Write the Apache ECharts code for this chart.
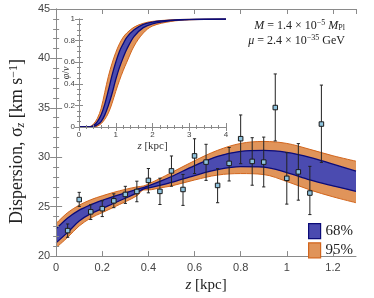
<!DOCTYPE html>
<html><head><meta charset="utf-8">
<script src="https://cdn.jsdelivr.net/npm/echarts@6/dist/echarts.min.js"></script>
<style>html,body{margin:0;padding:0;background:#fff}#c{width:374px;height:298px}</style>
</head><body><div id="c"></div>
<script>
// ---- main panel data ----
const zPts  = [0.05,0.1,0.15,0.2,0.25,0.3,0.35,0.4,0.45,0.5,0.55,0.6,0.65,0.7,0.75,0.8,0.85,0.9,0.95,1.0,1.05,1.1,1.15];
const sigma = [22.58,25.72,24.48,24.8,25.59,26.24,26.54,27.66,26.55,28.62,26.74,30.14,29.51,27.15,29.38,31.88,29.58,29.51,35.03,27.87,28.52,26.38,33.36];
const errHi = [23.25,26.45,25.2,25.6,26.3,27.06,27.58,28.86,27.88,30.13,28.26,31.87,31.31,28.85,30.99,34.28,31.98,32.04,38.43,30.46,31.38,29.08,37.3];
const errLo = [21.9,25.03,23.7,24.0,24.9,25.33,25.5,26.4,25.22,27.07,25.13,28.35,27.66,25.4,27.6,29.35,27.17,27.0,31.65,25.26,25.66,24.2,29.48];

const zBand = [0,0.05,0.1,0.15,0.2,0.25,0.3,0.35,0.38,0.4,0.45,0.5,0.6,0.7,0.8,0.9,1.0,1.1,1.2,1.3];
const o95Hi = [23.3,24.4,25.15,25.7,26.1,26.45,26.75,27.0,27.1,27.3,27.85,28.45,29.65,30.7,31.4,31.6,31.4,30.8,30.15,29.6];
const b68Hi = [22.75,23.85,24.65,25.2,25.65,26.05,26.4,26.75,26.95,27.1,27.55,28.05,29.15,30.1,30.6,30.7,30.5,30.0,29.3,28.6];
const b68Lo = [21.35,22.4,23.55,24.3,24.8,25.35,25.85,26.4,26.8,26.9,27.15,27.45,28.15,28.75,29.05,29.0,28.45,27.7,27.1,26.55];
const o95Lo = [20.85,21.9,23.05,23.85,24.4,24.95,25.5,26.1,26.7,26.7,26.9,27.1,27.7,28.2,28.35,28.25,27.55,26.7,26.0,25.4];

// ---- inset data ----
const zIn   = [0,0.3,0.4,0.5,0.6,0.7,0.8,0.9,1.0,1.1,1.2,1.3,1.5,1.75,2.0,2.5,3.0,4.0];
const inOL  = [0,0.005,0.03,0.08,0.17,0.32,0.47,0.59,0.69,0.77,0.83,0.87,0.925,0.96,0.978,0.992,0.998,1];
const inBL  = [0,0,0.015,0.05,0.11,0.21,0.34,0.48,0.6,0.7,0.77,0.83,0.9,0.95,0.972,0.989,0.997,1];
const inBR  = [0,0,0.005,0.022,0.05,0.11,0.2,0.31,0.44,0.55,0.64,0.72,0.84,0.92,0.955,0.984,0.995,1];
const inOR  = [0,0,0,0.008,0.03,0.07,0.13,0.22,0.33,0.43,0.52,0.6,0.75,0.87,0.935,0.977,0.992,1];

const mainXTicks = {min:0, max:1.3, interval:0.2};
const mainYTicks = {min:20, max:45, interval:5};

const ORANGE = '#e0945a', ORANGE_EDGE = '#d2651c';
const BLUE = '#4b4bb0', BLUE_EDGE = '#0b0b78';
const FRAME = '#8a8a8a', LABEL = '#444';
const SERIF = '"Liberation Serif","DejaVu Serif",serif';
const SANS = '"Liberation Sans","DejaVu Sans",sans-serif';
const SMOOTH = 0.35;

const pair = (xs, ys) => xs.map((x,i)=>[x, ys[i]]);

// filled curve: area from the curve down to the axis minimum (layered to build bands)
function fillCurve(name, xs, ys, fill, xi, yi, z) {
  return {type:'line', name:name, xAxisIndex:xi, yAxisIndex:yi, data:pair(xs, ys),
    showSymbol:false, smooth:SMOOTH, lineStyle:{width:0, color:fill}, itemStyle:{color:fill},
    areaStyle:{color:fill, opacity:1, origin:'start'}, z:z, silent:true};
}
function edgeCurve(name, xs, ys, color, w, xi, yi, z) {
  return {type:'line', name:name, xAxisIndex:xi, yAxisIndex:yi, data:pair(xs, ys),
    showSymbol:false, smooth:SMOOTH, lineStyle:{width:w, color:color}, itemStyle:{color:color}, z:z, silent:true};
}
function band(prefix, xs, oLo, oHi, bLo, bHi, xi, yi, z0, names) {
  return [
    fillCurve(names ? names[1] : prefix+'o', xs, oHi, ORANGE, xi, yi, z0),
    fillCurve(names ? names[0] : prefix+'b', xs, bHi, BLUE, xi, yi, z0+1),
    fillCurve(prefix+'bl', xs, bLo, ORANGE, xi, yi, z0+2),
    fillCurve(prefix+'ol', xs, oLo, '#ffffff', xi, yi, z0+3),
    edgeCurve(prefix+'e1', xs, oHi, ORANGE_EDGE, 1, xi, yi, z0+4),
    edgeCurve(prefix+'e2', xs, oLo, ORANGE_EDGE, 1, xi, yi, z0+4),
    edgeCurve(prefix+'e3', xs, bHi, BLUE_EDGE, 1.3, xi, yi, z0+5),
    edgeCurve(prefix+'e4', xs, bLo, BLUE_EDGE, 1.3, xi, yi, z0+5)
  ];
}

function axisCommon(extra) {
  return Object.assign({
    type:'value', splitLine:{show:false}, z:40,
    axisLine:{show:true, lineStyle:{color:FRAME, width:1}},
    axisTick:{show:true, inside:true, length:5, lineStyle:{color:FRAME}},
  }, extra);
}

const chart = echarts.init(document.getElementById('c'), null, {renderer:'canvas'});
const option = {
  animation:false,
  backgroundColor:'#fff',
  grid:[
    {left:43, top:9, width:313, height:253},
    {left:79, top:19, width:147, height:108, show:true, backgroundColor:'#fff', borderWidth:0}
  ],
  legend:{
    show:true, left:308, top:223, orient:'vertical', itemWidth:12, itemHeight:15, itemGap:3, padding:0,
    icon:'rect', z:50, selectedMode:false,
    textStyle:{fontFamily:SERIF, fontSize:15, color:'#222'},
    data:[
      {name:'68%', icon:'rect', itemStyle:{color:BLUE, borderColor:BLUE_EDGE, borderWidth:1.2, opacity:1}},
      {name:'95%', icon:'rect', itemStyle:{color:ORANGE, borderColor:ORANGE_EDGE, borderWidth:1.2, opacity:1}}
    ]
  },
  xAxis:[
    axisCommon(Object.assign({gridIndex:0, position:'bottom',
      axisLabel:{color:LABEL, fontFamily:SANS, fontSize:11, margin:6, showMaxLabel:false},
      name:'{i|z} [kpc]', nameLocation:'middle', nameGap:17,
      nameTextStyle:{fontFamily:SERIF, fontSize:15, color:'#222', rich:{i:{fontFamily:SERIF, fontStyle:'italic', fontSize:15, color:'#222'}}}
    }, mainXTicks)),
    axisCommon(Object.assign({gridIndex:0, position:'top', axisLabel:{show:false}}, mainXTicks)),
    axisCommon({gridIndex:1, position:'bottom', min:0, max:4, interval:1,
      axisTick:{show:true, inside:true, length:4, lineStyle:{color:FRAME}},
      minorTick:{show:true, splitNumber:5, length:2, lineStyle:{color:FRAME}},
      axisLabel:{color:LABEL, fontFamily:SANS, fontSize:8, margin:4},
      name:'{i|z} [kpc]', nameLocation:'middle', nameGap:14,
      nameTextStyle:{fontFamily:SERIF, fontSize:11, color:'#333', rich:{i:{fontFamily:SERIF, fontStyle:'italic', fontSize:11, color:'#333'}}}
    }),
    axisCommon({gridIndex:1, position:'top', min:0, max:4, interval:1,
      axisTick:{show:true, inside:true, length:4, lineStyle:{color:FRAME}},
      minorTick:{show:true, splitNumber:5, length:2, lineStyle:{color:FRAME}},
      axisLabel:{show:false}})
  ],
  yAxis:[
    axisCommon(Object.assign({gridIndex:0, position:'left',
      axisTick:{show:true, inside:true, length:6, lineStyle:{color:FRAME}},
      minorTick:{show:true, splitNumber:5, length:3, lineStyle:{color:FRAME}},
      axisLabel:{color:LABEL, fontFamily:SANS, fontSize:11, margin:6},
      name:'Dispersion, \u03c3{sub|z} [km s{sup|\u22121}]\u2002\u2002', nameLocation:'middle', nameGap:18,
      nameTextStyle:{fontFamily:SERIF, fontSize:18, color:'#222',
        rich:{sub:{fontFamily:SERIF, fontStyle:'italic', fontSize:12, color:'#222', verticalAlign:'bottom', padding:[7,0,0,0]},
              sup:{fontFamily:SERIF, fontSize:12, color:'#222', verticalAlign:'top', padding:[0,0,7,0]}}}
    }, mainYTicks)),
    axisCommon(Object.assign({gridIndex:0, position:'right',
      axisTick:{show:true, inside:true, length:6, lineStyle:{color:FRAME}},
      minorTick:{show:true, splitNumber:5, length:3, lineStyle:{color:FRAME}},
      axisLabel:{show:false}}, mainYTicks)),
    axisCommon({gridIndex:1, position:'left', min:0, max:1, interval:0.2,
      axisTick:{show:true, inside:true, length:4, lineStyle:{color:FRAME}},
      minorTick:{show:true, splitNumber:4, length:2, lineStyle:{color:FRAME}},
      axisLabel:{color:LABEL, fontFamily:SANS, fontSize:8, margin:4},
      name:'{i|\u03c6}/{i|v}', nameLocation:'middle', nameGap:8, nameMoveOverlap:false,
      nameTextStyle:{fontFamily:SERIF, fontSize:10, color:'#333', rich:{i:{fontFamily:SERIF, fontStyle:'italic', fontSize:10, color:'#333'}}}
    }),
    axisCommon({gridIndex:1, position:'right', min:0, max:1, interval:0.2,
      axisTick:{show:true, inside:true, length:4, lineStyle:{color:FRAME}},
      minorTick:{show:true, splitNumber:4, length:2, lineStyle:{color:FRAME}},
      axisLabel:{show:false}})
  ],
  graphic:[
    {type:'text', right:29, top:19, z:50, style:{
      text:'{i|M} = 1.4 \u00d7 10{sup|\u22125} {i|M}{sub|Pl}',
      fontFamily:SERIF, fontSize:12, fill:'#222',
      rich:{i:{fontFamily:SERIF, fontStyle:'italic', fontSize:12, fill:'#222'},
            sup:{fontFamily:SERIF, fontSize:8, fill:'#222', verticalAlign:'top', padding:[0,0,5,0]},
            sub:{fontFamily:SERIF, fontSize:8, fill:'#222', verticalAlign:'bottom', padding:[4,0,0,0]}}
    }},
    {type:'text', right:29, top:34, z:50, style:{
      text:'{i|\u03bc} = 2.4 \u00d7 10{sup|\u221235} GeV',
      fontFamily:SERIF, fontSize:12, fill:'#222',
      rich:{i:{fontFamily:SERIF, fontStyle:'italic', fontSize:12, fill:'#222'},
            sup:{fontFamily:SERIF, fontSize:8, fill:'#222', verticalAlign:'top', padding:[0,0,5,0]}}
    }}
  ],
  series:[
    ...band('m', zBand, o95Lo, o95Hi, b68Lo, b68Hi, 0, 0, 2, ['68%','95%']),
    {type:'custom', name:'err', xAxisIndex:0, yAxisIndex:0, z:10, silent:true,
     data: zPts.map((z,i)=>[z, errLo[i], errHi[i]]),
     encode:{x:0, y:[1,2]},
     renderItem:function(params, api){
       const x = api.value(0);
       const lo = api.coord([x, api.value(1)]);
       const hi = api.coord([x, api.value(2)]);
       const w = 1.6, st = {stroke:'#222', lineWidth:1};
       return {type:'group', children:[
         {type:'line', shape:{x1:lo[0], y1:lo[1], x2:hi[0], y2:hi[1]}, style:st},
         {type:'line', shape:{x1:lo[0]-w, y1:lo[1], x2:lo[0]+w, y2:lo[1]}, style:st},
         {type:'line', shape:{x1:hi[0]-w, y1:hi[1], x2:hi[0]+w, y2:hi[1]}, style:st}
       ]};
     }},
    {type:'scatter', name:'data', xAxisIndex:0, yAxisIndex:0, z:11, silent:true,
     data: pair(zPts, sigma), symbol:'rect', symbolSize:4.5,
     itemStyle:{color:'#8ec3de', borderColor:'#1a1a1a', borderWidth:1, opacity:1}},
    ...band('i', zIn, inOR, inOL, inBR, inBL, 2, 2, 20, null)
  ]
};
chart.setOption(option);
</script></body></html>
